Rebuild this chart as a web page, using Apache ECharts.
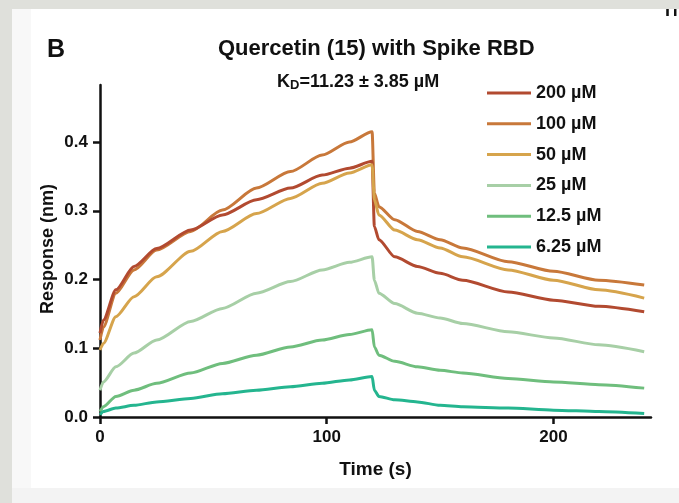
<!DOCTYPE html>
<html>
<head>
<meta charset="utf-8">
<script src="https://cdn.jsdelivr.net/npm/echarts@6/dist/echarts.min.js"></script>
<style>
  html, body { margin: 0; padding: 0; background: #fff; }
  #chart { width: 679px; height: 503px; }
</style>
</head>
<body>
<div id="chart"></div>
<script>
// sample times (s): association 0-120, dissociation 120-240
const assocTime = [0, 1.5, 7, 15, 25, 40, 54, 69, 84, 98, 110, 120];
const dissTime = [121, 123, 130, 140, 150, 160, 180, 200, 220, 240];

const concLabels = ['200 µM', '100 µM', '50 µM', '25 µM', '12.5 µM', '6.25 µM'];

// response (nm), assoc points then diss points
const resp200 = [0.122, 0.141, 0.185, 0.219, 0.245, 0.272, 0.294, 0.316, 0.333, 0.352, 0.362, 0.372,
                 0.277, 0.258, 0.233, 0.219, 0.209, 0.199, 0.182, 0.170, 0.161, 0.153];
const resp100 = [0.112, 0.131, 0.180, 0.214, 0.243, 0.270, 0.301, 0.333, 0.357, 0.381, 0.400, 0.415,
                 0.326, 0.306, 0.287, 0.270, 0.258, 0.246, 0.226, 0.212, 0.199, 0.192];
const resp50 = [0.0975, 0.107, 0.146, 0.175, 0.204, 0.241, 0.270, 0.296, 0.318, 0.340, 0.355, 0.367,
                0.316, 0.294, 0.272, 0.258, 0.246, 0.233, 0.214, 0.199, 0.185, 0.173];
const resp25 = [0.039, 0.051, 0.073, 0.093, 0.112, 0.139, 0.158, 0.180, 0.197, 0.214, 0.225, 0.233,
                0.199, 0.180, 0.165, 0.151, 0.144, 0.136, 0.124, 0.115, 0.105, 0.095];
const resp12 = [0.008, 0.015, 0.030, 0.039, 0.049, 0.064, 0.078, 0.090, 0.102, 0.112, 0.120, 0.127,
                0.102, 0.090, 0.081, 0.073, 0.068, 0.064, 0.056, 0.051, 0.047, 0.042];
const resp6 = [0.003, 0.008, 0.013, 0.017, 0.022, 0.027, 0.034, 0.039, 0.044, 0.049, 0.054, 0.059,
               0.039, 0.030, 0.025, 0.022, 0.017, 0.015, 0.013, 0.010, 0.008, 0.005];

const xTicks = [0, 100, 200];
const yTicks = [0, 0.1, 0.2, 0.3, 0.4];

const colors = ['#b24a30', '#c8783a', '#d6a44c', '#a7cfa6', '#6fbe7d', '#24b58f'];
const FONT = '"Liberation Sans", Arial, sans-serif';

const times = assocTime.concat(dissTime);
const allResp = [resp200, resp100, resp50, resp25, resp12, resp6];

function toPairs(vals) {
  return times.map((t, i) => [t, vals[i]]);
}

// 100 µM drawn first so the 200 µM trace sits on top where they overlap
const drawOrder = [1, 0, 2, 3, 4, 5];
const series = drawOrder.map((k) => ({
  name: concLabels[k],
  type: 'line',
  data: toPairs(allResp[k]),
  smooth: 0.25,
  smoothMonotone: 'x',
  symbol: 'none',
  lineStyle: { color: colors[k], width: 3 },
  itemStyle: { color: colors[k] },
  emphasis: { disabled: true },
}));

const chart = echarts.init(document.getElementById('chart'), null, { renderer: 'canvas' });

chart.setOption({
  animation: false,
  backgroundColor: '#ffffff',
  textStyle: { fontFamily: FONT },
  title: [
    { text: 'B', left: 42, top: 33, textStyle: { fontFamily: FONT, fontSize: 25, fontWeight: 'bold', color: '#111' } },
    { text: 'Quercetin (15) with Spike RBD', left: 213, top: 33,
      textStyle: { fontFamily: FONT, fontSize: 22, fontWeight: 'bold', color: '#111' } },
  ],
  legend: {
    data: concLabels,
    orient: 'vertical',
    left: 487,
    top: 84,
    padding: 0,
    itemGap: 12.8,
    itemWidth: 44,
    itemHeight: 3,
    icon: 'rect',
    selectedMode: false,
    textStyle: { fontFamily: FONT, fontSize: 18, fontWeight: 'bold', color: '#111', lineHeight: 18 },
  },
  grid: { left: 100, right: 28, top: 85, bottom: 86, containLabel: false },
  xAxis: {
    type: 'value',
    min: 0,
    max: 243,
    interval: 100,
    name: 'Time (s)',
    nameLocation: 'middle',
    nameGap: 43,
    nameTextStyle: { fontFamily: FONT, fontSize: 19, fontWeight: 'bold', color: '#111' },
    axisLine: { lineStyle: { color: '#111', width: 2.5 } },
    axisTick: { show: true, length: 7, lineStyle: { color: '#111', width: 2.5 }, customValues: xTicks },
    axisLabel: { customValues: xTicks, margin: 12, fontFamily: FONT, fontSize: 17, fontWeight: 'bold', color: '#111' },
    splitLine: { show: false },
  },
  yAxis: {
    type: 'value',
    min: 0,
    max: 0.483,
    interval: 0.1,
    axisLine: { show: true, lineStyle: { color: '#111', width: 2.5 } },
    axisTick: { show: true, length: 7, lineStyle: { color: '#111', width: 2.5 }, customValues: yTicks },
    axisLabel: {
      customValues: yTicks, margin: 12, fontFamily: FONT, fontSize: 17, fontWeight: 'bold', color: '#111',
      formatter: (v) => v.toFixed(1),
    },
    splitLine: { show: false },
  },
  graphic: [
    // y axis title
    {
      type: 'text', x: 48, y: 249, rotation: Math.PI / 2, z: 10,
      style: { text: 'Response (nm)', fontFamily: FONT, fontSize: 18, fontWeight: 'bold', fill: '#111', align: 'center', verticalAlign: 'middle' },
    },
    // K_D annotation
    {
      type: 'text', left: 277, top: 73, z: 10,
      style: {
        text: '{k|K}{sub|D}{k|=11.23 ± 3.85 µM}',
        rich: {
          k: { fontFamily: FONT, fontSize: 18, fontWeight: 'bold', fill: '#111' },
          sub: { fontFamily: FONT, fontSize: 13, fontWeight: 'bold', fill: '#111', verticalAlign: 'bottom', padding: [6, 0, 0, 0] },
        },
      },
    },
    // cut-off text at top right edge
    { type: 'text', left: 662, top: 2, z: 1, style: { text: 'Ti', fontFamily: FONT, fontSize: 18, fontWeight: 'bold', fill: '#111' } },
    // page frame
    { type: 'rect', shape: { x: 0, y: 0, width: 679, height: 9 }, style: { fill: '#dfe0db' }, z: 20, silent: true },
    { type: 'rect', shape: { x: 0, y: 0, width: 12, height: 503 }, style: { fill: '#dfe0db' }, z: 20, silent: true },
    { type: 'rect', shape: { x: 12, y: 9, width: 19, height: 494 }, style: { fill: '#f8f8f8' }, z: 19, silent: true },
    { type: 'rect', shape: { x: 12, y: 488, width: 667, height: 15 }, style: { fill: '#f3f3f3' }, z: 20, silent: true },
  ],
  series: series,
});
</script>
</body>
</html>
